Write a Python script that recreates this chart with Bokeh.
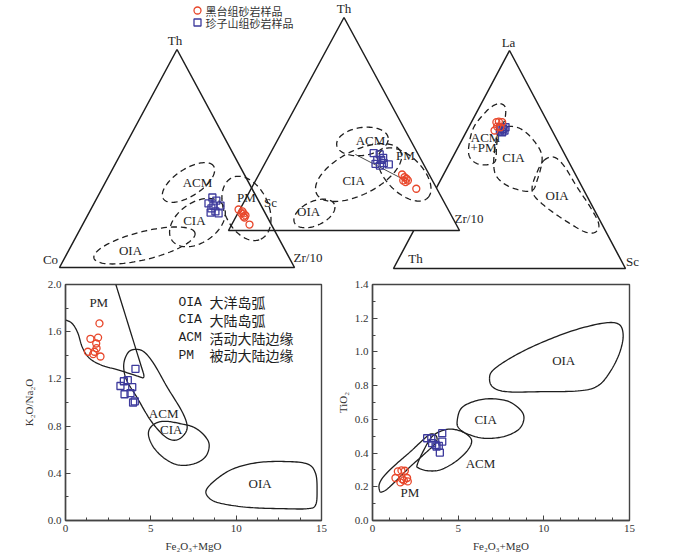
import numpy as np
from bokeh.plotting import figure
from bokeh.layouts import column, row
from bokeh.models import Range1d, FixedTicker, PrintfTickFormatter
from bokeh.core.properties import value
from bokeh.embed import file_html
from bokeh.resources import INLINE

RED = "#e8472b"
BLUE = "#3d3a9c"
INK = "#1e1e1e"
GREY = "#333333"
SERIF = "Liberation Serif"
CJK = "Noto Sans CJK SC"
MONO = "Liberation Mono"

# ---------------- legend ----------------
legend_names = ["黑台组砂岩样品", "珍子山组砂岩样品"]

# ---------------- Th-Co-Zr/10 (Th, Zr/10 in %, Co = rest) ----------------
t1_vertex_names = ["Th", "Co", "Zr/10"]
t1_red_th = [26.6, 25.7, 24.8, 23.4, 23.9, 24.8, 22.9, 19.7]
t1_red_zr = [62.9, 65.0, 65.9, 66.6, 67.2, 65.0, 67.3, 71.0]
t1_blue_th = [32.1, 29.4, 28.4, 28.4, 25.2, 25.7, 24.8, 27.1, 30.7]
t1_blue_zr = [49.0, 48.7, 51.3, 54.3, 51.7, 53.5, 55.3, 51.1, 51.4]
t1_field_names = ["ACM", "CIA", "OIA", "PM"]
t1_field_th = [39.0, 20.6, 10.1, 27.1]
t1_field_zr = [35.4, 48.4, 31.1, 66.0]
t1_field_major = [25.5, 26.4, 44.3, 28.9]
t1_field_minor = [11.5, 17.0, 11.9, 18.7]
t1_field_angle = [33, 35, 14, -65]
t1_label_th = [39.0, 21.6, 7.8, 32.1]
t1_label_zr = [39.2, 46.6, 26.3, 63.5]

# ---------------- Th-Sc-Zr/10 (Th, Zr/10 in %, Sc = rest) ----------------
t2_vertex_names = ["Th", "Sc", "Zr/10"]
t2_red_th = [26.3, 25.0, 24.3, 23.5, 22.7, 23.5, 19.6]
t2_red_zr = [62.0, 63.7, 64.9, 63.9, 65.3, 65.9, 71.5]
t2_blue_th = [36.3, 35.7, 33.2, 33.2, 31.6, 31.0, 31.3, 30.5, 34.1]
t2_blue_zr = [44.7, 47.6, 47.8, 49.5, 51.4, 53.9, 48.0, 50.3, 49.9]
t2_field_names = ["ACM", "CIA", "OIA", "PM"]
t2_field_th = [41.8, 27.2, 8.0, 26.3]
t2_field_zr = [37.1, 42.7, 33.2, 63.0]
t2_field_major = [22.5, 40.7, 19.0, 28.6]
t2_field_minor = [12.1, 19.0, 10.4, 15.6]
t2_field_angle = [8, 27, 25, -45]
t2_label_th = [42.3, 23.5, 8.9, 35.2]
t2_label_zr = [40.3, 42.4, 30.2, 59.0]
t2_trend_th = [35.7, 23.5]
t2_trend_zr = [37.1, 64.9]

# ---------------- La-Th-Sc (La, Sc in %, Th = rest) ----------------
t3_vertex_names = ["La", "Th", "Sc"]
t3_red_la = [67.1, 67.4, 67.1, 65.1, 64.8, 63.3]
t3_red_sc = [10.8, 11.7, 13.3, 12.1, 13.7, 11.9]
t3_blue_la = [64.8, 64.1, 63.3, 62.5, 63.3, 64.8]
t3_blue_sc = [13.7, 15.2, 16.2, 15.6, 14.2, 15.9]
t3_acmpm_la = [75.6, 73.7, 67.9, 63.3, 55.6, 49.5, 47.7, 48.0, 51.1, 56.4, 64.8, 71.7, 74.8]
t3_acmpm_sc = [8.3, 11.4, 13.9, 13.7, 16.6, 19.2, 17.2, 12.3, 7.3, 4.3, 2.2, 3.8, 5.8]
t3_cia_la = [65.1, 64.1, 58.7, 51.1, 40.4, 35.5, 37.3, 41.9, 48.0, 57.2, 62.5]
t3_cia_sc = [16.4, 22.7, 31.1, 38.5, 41.7, 41.3, 31.8, 23.7, 19.2, 15.4, 14.2]
t3_oia_la = [49.5, 51.1, 47.2, 37.3, 28.1, 20.5, 16.7, 16.7, 20.5, 26.6, 32.7, 37.3, 44.2]
t3_oia_sc = [40.0, 43.5, 49.8, 60.5, 70.8, 78.2, 78.7, 74.4, 66.0, 54.4, 44.8, 41.1, 39.8]
t3_label_text = ["ACM", "+PM", "CIA", "OIA"]
t3_label_la = [60.2, 55.6, 51.1, 33.5]
t3_label_sc = [9.6, 11.0, 26.2, 53.8]

# ---------------- K2O/Na2O vs Fe2O3+MgO ----------------
k_red_x = [1.99, 1.46, 1.91, 1.80, 1.82, 1.31, 1.70, 1.62, 2.05]
k_red_y = [1.67, 1.54, 1.55, 1.50, 1.46, 1.43, 1.43, 1.41, 1.39]
k_blue_x = [4.10, 3.42, 3.65, 3.22, 3.91, 3.46, 3.81, 3.96, 4.06]
k_blue_y = [1.285, 1.18, 1.19, 1.14, 1.13, 1.07, 1.08, 1.00, 1.01]
k_pm_x = [0, 0.39, 0.72, 0.98, 1.37, 2.05, 3.22, 4.30, 4.55, 4.58, 4.40, 2.95]
k_pm_y = [1.70, 1.67, 1.59, 1.47, 1.38, 1.32, 1.27, 1.22, 1.21, 1.24, 1.324, 2.0]
k_acm_x = [4.10, 3.71, 3.46, 3.42, 3.61, 4.20, 4.98, 5.76, 6.35, 6.84, 7.13, 6.84, 5.96, 5.17, 4.59]
k_acm_y = [1.45, 1.43, 1.36, 1.28, 1.18, 1.04, 0.85, 0.72, 0.68, 0.71, 0.79, 0.92, 1.13, 1.33, 1.43]
k_cia_x = [5.37, 5.96, 6.74, 7.52, 8.14, 8.42, 8.20, 7.52, 6.64, 5.86, 5.21, 4.88, 4.94]
k_cia_y = [0.83, 0.84, 0.82, 0.79, 0.72, 0.64, 0.54, 0.48, 0.47, 0.52, 0.61, 0.71, 0.78]
k_oia_x = [8.24, 8.89, 9.86, 11.23, 12.79, 14.16, 14.65, 14.74, 14.65, 14.16, 12.79, 10.84, 9.27, 8.50]
k_oia_y = [0.255, 0.355, 0.44, 0.49, 0.50, 0.48, 0.40, 0.255, 0.13, 0.10, 0.10, 0.11, 0.14, 0.18]
k_label_text = ["PM", "ACM", "CIA", "OIA"]
k_label_x = [1.95, 5.75, 6.2, 11.4]
k_label_y = [1.85, 0.91, 0.77, 0.31]
k_key_codes = ["OIA", "CIA", "ACM", "PM"]
k_key_names = ["大洋岛弧", "大陆岛弧", "活动大陆边缘", "被动大陆边缘"]
k_key_y = [1.85, 1.70, 1.55, 1.40]

# ---------------- TiO2 vs Fe2O3+MgO ----------------
t_red_x = [1.34, 1.48, 1.69, 1.89, 1.73, 1.83, 2.02, 2.06, 1.63]
t_red_y = [0.252, 0.291, 0.297, 0.295, 0.246, 0.238, 0.252, 0.232, 0.226]
t_blue_x = [3.19, 3.43, 3.48, 3.68, 3.87, 4.07, 4.07, 3.93, 3.74]
t_blue_y = [0.488, 0.488, 0.459, 0.449, 0.443, 0.518, 0.468, 0.403, 0.439]
t_pm_x = [0.43, 0.39, 0.66, 1.34, 2.22, 3.00, 3.43, 3.74, 3.68, 3.09, 2.22, 1.44, 0.86, 0.57]
t_pm_y = [0.173, 0.213, 0.262, 0.331, 0.409, 0.483, 0.514, 0.498, 0.459, 0.400, 0.321, 0.242, 0.187, 0.170]
t_acm_x = [2.61, 3.00, 3.48, 4.07, 4.65, 5.33, 5.78, 5.57, 4.86, 3.97, 3.23, 2.70]
t_acm_y = [0.331, 0.419, 0.498, 0.533, 0.542, 0.522, 0.478, 0.419, 0.350, 0.301, 0.295, 0.311]
t_cia_x = [4.94, 5.14, 5.72, 6.70, 7.86, 8.60, 8.84, 8.55, 7.67, 6.51, 5.53, 5.04]
t_cia_y = [0.587, 0.660, 0.699, 0.722, 0.709, 0.660, 0.607, 0.542, 0.498, 0.488, 0.514, 0.548]
t_oia_x = [6.83, 7.08, 8.25, 9.81, 11.75, 13.50, 14.38, 14.63, 14.44, 13.93, 13.21, 12.14, 9.81, 7.86, 7.04]
t_oia_y = [0.843, 0.896, 0.975, 1.053, 1.128, 1.171, 1.164, 1.099, 1.000, 0.892, 0.803, 0.770, 0.764, 0.764, 0.790]
t_label_text = ["OIA", "CIA", "ACM", "PM"]
t_label_x = [11.16, 6.6, 6.3, 2.18]
t_label_y = [0.951, 0.60, 0.337, 0.167]


# ======================= helpers =======================
def catmull(xs, ys, closed=True, n=12):
    pts = np.column_stack([xs, ys]).astype(float)
    if closed:
        P = np.vstack([pts[-1], pts, pts[0], pts[1]])
    else:
        P = np.vstack([pts[0], pts, pts[-1]])
    out = []
    for i in range(1, len(P) - 2):
        p0, p1, p2, p3 = P[i - 1], P[i], P[i + 1], P[i + 2]
        for t in np.linspace(0, 1, n, endpoint=False):
            t2, t3 = t * t, t * t * t
            out.append(0.5 * ((2 * p1) + (-p0 + p2) * t + (2 * p0 - 5 * p1 + 4 * p2 - p3) * t2
                              + (-p0 + 3 * p1 - 3 * p2 + p3) * t3))
    out.append(P[-2])
    out = np.array(out)
    return out[:, 0], out[:, 1]


def smooth_data(xs, ys, sx, sy, closed=True):
    x, y = catmull(np.array(xs) * sx, np.array(ys) * sy, closed)
    return x / sx, y / sy


class Tri:
    def __init__(self, xl, yb, w, h):
        self.xl, self.yb, self.w, self.h = xl, yb, w, h

    def xy(self, top, right):
        top = np.asarray(top, float)
        right = np.asarray(right, float)
        return self.xl + self.w * (right / 100 + top / 200), self.yb - self.h * top / 100

    def ellipse(self, top, right, major, minor, ang, n=120):
        cx, cy = self.xy(top, right)
        a = major / 100 * self.w / 2
        b = minor / 100 * self.w / 2
        t = np.linspace(0, 2 * np.pi, n)
        th = np.radians(ang)
        x = cx + a * np.cos(t) * np.cos(th) - b * np.sin(t) * np.sin(th)
        y = cy - (a * np.cos(t) * np.sin(th) + b * np.sin(t) * np.cos(th))
        return x, y


def label(p, x, y, text, size="13px", font=SERIF, align="center", color=INK):
    p.text(x=x, y=y, text=text, text_font=value(font), text_font_size=size,
           text_align=align, text_baseline="middle", text_color=color)


DASH = dict(line_color=INK, line_width=1.3, line_dash="6 4")

# ======================= top: ternary diagrams =======================
TOP_H = 278
top = figure(width=700, height=TOP_H, x_range=Range1d(0, 700), y_range=Range1d(TOP_H, 0),
             output_backend="svg", toolbar_location=None, min_border=0)
top.axis.visible = False
top.grid.visible = False
top.outline_line_color = None

T1 = Tri(59, 267, 235, 218)
T2 = Tri(228, 230, 231, 213)
T3 = Tri(393, 268, 232, 218)

# --- triangle 3 (La-Th-Sc)
vx, vy = T3.xy([100, 0, 0, 100], [0, 0, 100, 0])
top.patch(vx, vy, fill_color="white", line_color=INK, line_width=1.5)
for la, sc in [(t3_acmpm_la, t3_acmpm_sc), (t3_cia_la, t3_cia_sc), (t3_oia_la, t3_oia_sc)]:
    x, y = T3.xy(la, sc)
    sx, sy = catmull(x, y)
    top.line(sx, sy, **DASH)
lx, ly = T3.xy(t3_label_la, t3_label_sc)
label(top, lx, ly, t3_label_text)

# --- triangle 2 (Th-Sc-Zr/10)
vx, vy = T2.xy([100, 0, 0, 100], [0, 0, 100, 0])
top.patch(vx, vy, fill_color="white", line_color=INK, line_width=1.5)
for i in range(4):
    ex, ey = T2.ellipse(t2_field_th[i], t2_field_zr[i], t2_field_major[i], t2_field_minor[i], t2_field_angle[i])
    top.line(ex, ey, **DASH)
lx, ly = T2.xy(t2_label_th, t2_label_zr)
label(top, lx, ly, t2_field_names)
x, y = T2.xy(t2_trend_th, t2_trend_zr)
top.line(x, y, line_color=INK, line_width=0.8)

# --- triangle 1 (Th-Co-Zr/10)
vx, vy = T1.xy([100, 0, 0, 100], [0, 0, 100, 0])
top.line(vx, vy, line_color=INK, line_width=1.5)
for i in range(4):
    ex, ey = T1.ellipse(t1_field_th[i], t1_field_zr[i], t1_field_major[i], t1_field_minor[i], t1_field_angle[i])
    top.line(ex, ey, **DASH)
lx, ly = T1.xy(t1_label_th, t1_label_zr)
label(top, lx, ly, t1_field_names)

# samples
for T, rt, rr, bt, br in [(T1, t1_red_th, t1_red_zr, t1_blue_th, t1_blue_zr),
                          (T2, t2_red_th, t2_red_zr, t2_blue_th, t2_blue_zr),
                          (T3, t3_red_la, t3_red_sc, t3_blue_la, t3_blue_sc)]:
    bx, by = T.xy(bt, br)
    top.scatter(bx, by, marker="square", size=7, fill_color=None, line_color=BLUE, line_width=1.3)
    rx, ry = T.xy(rt, rr)
    top.scatter(rx, ry, marker="circle", size=7, fill_color=None, line_color=RED, line_width=1.3)

# vertex labels
ax, ay = T1.xy([100], [0]); label(top, ax - 2, ay - 9, [t1_vertex_names[0]])
ax, ay = T1.xy([0], [0]); label(top, ax - 9, ay - 8, [t1_vertex_names[1]])
ax, ay = T1.xy([0], [100]); label(top, ax - 1, ay - 10, [t1_vertex_names[2]], align="left")
ax, ay = T2.xy([100], [0]); label(top, ax, ay - 9, [t2_vertex_names[0]])
ax, ay = T2.xy([0], [0]); label(top, ax + 42, ay - 28, [t2_vertex_names[1]])
ax, ay = T2.xy([0], [100]); label(top, ax - 5, ay - 12, [t2_vertex_names[2]], align="left")
ax, ay = T3.xy([100], [0]); label(top, ax - 1, ay - 8, [t3_vertex_names[0]])
ax, ay = T3.xy([0], [0]); label(top, ax + 22, ay - 10, [t3_vertex_names[1]])
ax, ay = T3.xy([0], [100]); label(top, ax + 7, ay - 7, [t3_vertex_names[2]])

# legend
top.scatter([197], [10], marker="circle", size=7, fill_color=None, line_color=RED, line_width=1.3)
top.scatter([197], [22], marker="square", size=7, fill_color=None, line_color=BLUE, line_width=1.3)
label(top, [205, 205], [10, 22], legend_names, size="11px", font=CJK, align="left", color=GREY)


# ======================= bottom: binary diagrams =======================
def binary(width, bl, br, xr, yr, yticks, yminor, xminor, ylabel, yfmt, ystand):
    p = figure(width=width, height=278, x_range=Range1d(*xr), y_range=Range1d(*yr),
               output_backend="svg", toolbar_location=None,
               min_border_left=bl, min_border_right=br, min_border_top=6, min_border_bottom=36)
    p.grid.visible = False
    p.outline_line_color = "#444444"
    p.outline_line_width = 1.4
    p.xaxis.ticker = FixedTicker(ticks=[0, 5, 10, 15], minor_ticks=xminor)
    p.yaxis.ticker = FixedTicker(ticks=yticks, minor_ticks=yminor)
    p.yaxis.formatter = PrintfTickFormatter(format=yfmt)
    for ax in (p.xaxis, p.yaxis):
        ax.axis_line_color = "#444444"
        ax.axis_line_width = 1.4
        ax.major_tick_in = 5
        ax.major_tick_out = 0
        ax.minor_tick_in = 3
        ax.minor_tick_out = 0
        ax.major_tick_line_color = "#444444"
        ax.minor_tick_line_color = "#444444"
        ax.major_label_text_font = SERIF
        ax.major_label_text_font_size = "11px"
        ax.major_label_text_color = GREY
        ax.axis_label_text_font = SERIF
        ax.axis_label_text_font_size = "11px"
        ax.axis_label_text_font_style = "normal"
        ax.axis_label_text_color = GREY
        ax.major_label_standoff = 4
        ax.axis_label_standoff = 5
    p.yaxis.axis_label_standoff = ystand
    p.xaxis.axis_label = "Fe₂O₃+MgO"
    p.yaxis.axis_label = ylabel
    return p


SOLID = dict(line_color=INK, line_width=1.3)

left = binary(332, 65, 11, (0, 15), (0, 2.0), [0, 0.4, 0.8, 1.2, 1.6, 2.0],
              [0.2, 0.6, 1.0, 1.4, 1.8], [1.25, 2.5, 3.75, 6.25, 7.5, 8.75, 11.25, 12.5, 13.75],
              "K₂O/Na₂O", "%.1f", 10)
KX, KY = 256 / 15, 236 / 2.0
x, y = smooth_data(k_pm_x, k_pm_y, KX, KY, closed=False)
left.line(x, y, **SOLID)
for fx, fy in [(k_acm_x, k_acm_y), (k_cia_x, k_cia_y), (k_oia_x, k_oia_y)]:
    x, y = smooth_data(fx, fy, KX, KY)
    left.line(x, y, **SOLID)
left.scatter(k_red_x, k_red_y, marker="circle", size=7, fill_color=None, line_color=RED, line_width=1.3)
left.scatter(k_blue_x, k_blue_y, marker="square", size=7, fill_color=None, line_color=BLUE, line_width=1.3)
label(left, k_label_x, k_label_y, k_label_text)
label(left, [6.62] * 4, k_key_y, k_key_codes, size="13px", font=MONO, align="left")
label(left, [8.44] * 4, k_key_y, k_key_names, size="14px", font=CJK, align="left")

right = binary(368, 40, 71, (0, 15), (0, 1.4), [0, 0.2, 0.4, 0.6, 0.8, 1.0, 1.2, 1.4],
               [0.1, 0.3, 0.5, 0.7, 0.9, 1.1, 1.3], [1, 2, 3, 4, 6, 7, 8, 9, 11, 12, 13, 14],
               "TiO₂", "%.1f", 3)
RX, RY = 257 / 15, 237 / 1.4
for fx, fy in [(t_pm_x, t_pm_y), (t_acm_x, t_acm_y), (t_cia_x, t_cia_y), (t_oia_x, t_oia_y)]:
    x, y = smooth_data(fx, fy, RX, RY)
    right.line(x, y, **SOLID)
right.scatter(t_red_x, t_red_y, marker="circle", size=7, fill_color=None, line_color=RED, line_width=1.3)
right.scatter(t_blue_x, t_blue_y, marker="square", size=7, fill_color=None, line_color=BLUE, line_width=1.3)
label(right, t_label_x, t_label_y, t_label_text)

layout = column(top, row(left, right))
open("out.html", "w").write(file_html(layout, INLINE))
